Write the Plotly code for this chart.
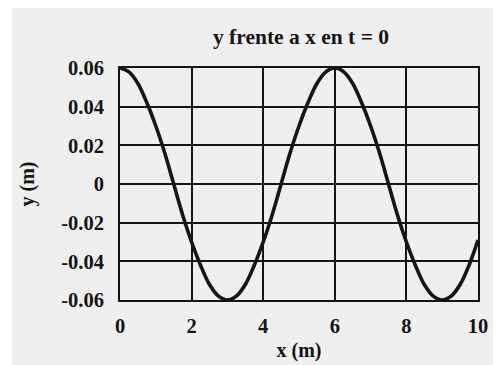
import plotly.graph_objects as go

# displacement along the string at t = 0
x_m = [0, 0.25, 0.5, 0.75, 1, 1.25, 1.5, 1.75, 2, 2.25, 2.5, 2.75, 3,
       3.25, 3.5, 3.75, 4, 4.25, 4.5, 4.75, 5, 5.25, 5.5, 5.75, 6,
       6.25, 6.5, 6.75, 7, 7.25, 7.5, 7.75, 8, 8.25, 8.5, 8.75, 9,
       9.25, 9.5, 9.75, 10]
y_m = [0.060, 0.058, 0.052, 0.042, 0.030, 0.016, 0.000, -0.016, -0.030, -0.042, -0.052, -0.058, -0.060,
       -0.058, -0.052, -0.042, -0.030, -0.016, 0.000, 0.016, 0.030, 0.042, 0.052, 0.058, 0.060,
       0.058, 0.052, 0.042, 0.030, 0.016, 0.000, -0.016, -0.030, -0.042, -0.052, -0.058, -0.060,
       -0.058, -0.052, -0.042, -0.029]

x_ticks = [0, 2, 4, 6, 8, 10]
y_ticks = [0.06, 0.04, 0.02, 0, -0.02, -0.04, -0.06]
y_tick_labels = ["0.06", "0.04", "0.02", "0", "-0.02", "-0.04", "-0.06"]

INK = "#151515"
SERIF = "Liberation Serif, DejaVu Serif, serif"
FONT = dict(family=SERIF, size=20.5, color=INK, weight="bold")

# the page body has an 8px margin, so the figure is laid out 8px up/left
OFF = 8
W, H = 501 - OFF, 365 - OFF
L, R, T, B = 120 - OFF, 478 - OFF, 68 - OFF, 300 - OFF

fig = go.Figure()
fig.add_trace(
    go.Scatter(
        x=x_m,
        y=y_m,
        mode="lines",
        line=dict(color=INK, width=3.6, shape="spline"),
        showlegend=False,
    )
)

# grey scanned page, white strip along its left edge
fig.add_shape(
    type="rect",
    xref="paper",
    yref="paper",
    x0=(12 - OFF - L) / (R - L),
    x1=(W + 5 - L) / (R - L),
    y0=(B - H - 5) / (B - T),
    y1=(B + 5) / (B - T),
    fillcolor="#efefef",
    line=dict(width=0),
    layer="below",
)

fig.update_layout(
    width=W,
    height=H,
    title=dict(
        text="y frente a x en t = 0",
        x=(301 - OFF) / W,
        xanchor="center",
        y=1 - (36 - OFF) / H,
        yanchor="middle",
        font=dict(family=SERIF, size=21.5, color=INK, weight="bold"),
    ),
    font=FONT,
    paper_bgcolor="white",
    plot_bgcolor="rgba(0,0,0,0)",
    margin=dict(l=L, r=W - R, t=T, b=H - B),
)
fig.update_xaxes(
    range=[0, 10],
    tickvals=x_ticks,
    ticktext=[str(v) for v in x_ticks],
    showgrid=True,
    gridcolor=INK,
    gridwidth=2,
    showline=True,
    linecolor=INK,
    linewidth=2,
    mirror=True,
    zeroline=False,
    ticks="",
    ticklabelstandoff=6,
    automargin=False,
    title=dict(text="x (m)", standoff=7, font=dict(size=20)),
)
fig.update_yaxes(
    range=[-0.06, 0.06],
    tickvals=y_ticks,
    ticktext=y_tick_labels,
    showgrid=True,
    gridcolor=INK,
    gridwidth=2,
    showline=True,
    linecolor=INK,
    linewidth=2,
    mirror=True,
    zeroline=False,
    ticks="",
    ticklabelstandoff=10,
    automargin=False,
    title=dict(text="y (m)", standoff=21, font=dict(size=20)),
)

fig.write_html("out.html")
